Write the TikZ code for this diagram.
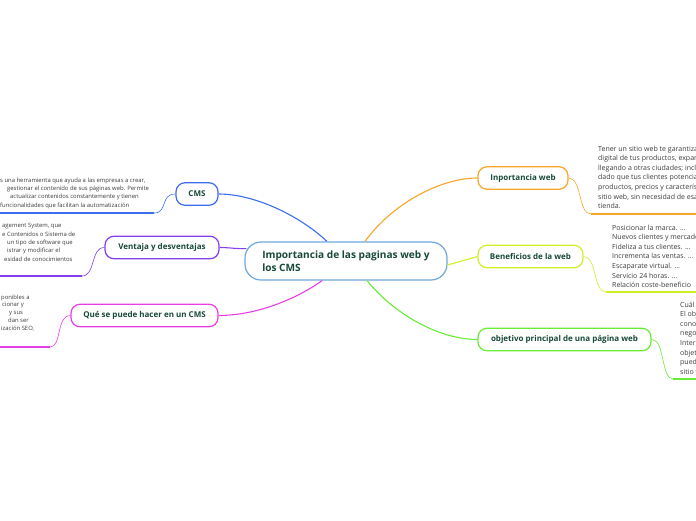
\documentclass[tikz,border=0pt]{standalone}
\usepackage{fontspec}
\setmainfont{Open Sans}
\usetikzlibrary{positioning}
\definecolor{ink}{RGB}{24,72,56}
\definecolor{note}{RGB}{60,60,60}
\definecolor{croot}{RGB}{110,168,220}
\definecolor{ccms}{RGB}{60,108,240}
\definecolor{cven}{RGB}{132,62,236}
\definecolor{cque}{RGB}{232,62,232}
\definecolor{cimp}{RGB}{247,166,40}
\definecolor{cben}{RGB}{206,240,40}
\definecolor{cobj}{RGB}{104,236,52}

\begin{document}
\begin{tikzpicture}[x=1pt,y=-1pt,
    root/.style={draw=croot,line width=1.2pt,rounded corners=16pt,fill=white,
                 minimum width=202pt,minimum height=38pt,inner sep=0pt,
                 font=\fontsize{10.1}{13}\selectfont\bfseries,text=ink,align=left},
    topic/.style={draw=#1,line width=1.2pt,rounded corners=9pt,fill=white,
                  minimum height=22.5pt,inner sep=0pt,
                  font=\fontsize{8}{9}\selectfont\bfseries,text=ink},
    lnote/.style={font=\fontsize{5.9}{8.3}\selectfont,align=left,
                  inner sep=0pt,anchor=north west,text=note},
    rnote/.style={font=\fontsize{7}{9.6}\selectfont,align=left,
                  inner sep=0pt,anchor=north west,text=note},
    branch/.style={draw=#1,line width=1.1pt},
    twig/.style={draw=#1,line width=0.6pt},
    bar/.style={draw=#1,line width=1.8pt}]
    \useasboundingbox (0,0) rectangle (696,520);
    \clip (0,0) rectangle (696,520);
    % central topic
    \node[root] (root) at (346,261) {Importancia de las paginas web y\\los CMS};
    % left topics
    \node[topic=ccms,minimum width=42pt]  (cms) at (197,194)   {CMS};
    \node[topic=cven,minimum width=114pt] (ven) at (162,247.5) {Ventaja y desventajas};
    \node[topic=cque,minimum width=147pt] (que) at (144.5,315.5) {Qué se puede hacer en un CMS};
    % right topics
    \node[topic=cimp,minimum width=90pt]  (imp) at (523,178)   {Inportancia web};
    \node[topic=cben,minimum width=105pt] (ben) at (530.5,256.5) {Beneficios de la web};
    \node[topic=cobj,minimum width=173pt] (obj) at (564.5,339.5) {objetivo principal de una página web};
    % main branches
    \draw[branch=ccms] ([xshift=-19pt]root.north) .. controls (300,216) and (255,194) .. (cms.east);
    \draw[branch=cven] ([xshift=2pt]root.173) .. controls (236,249) and (230,247.5) .. (ven.east);
    \draw[branch=cque] ([xshift=-24pt]root.south) .. controls (295,300) and (255,315.5) .. (que.east);
    \draw[branch=cimp] ([xshift=19pt]root.north) .. controls (392,204) and (440,178) .. (imp.west);
    \draw[branch=cben] ([yshift=-4pt]root.east) -- (ben.west);
    \draw[branch=cobj] ([xshift=21pt]root.south) .. controls (395,315) and (440,339.5) .. (obj.west);
    % notes on the left
    \coordinate (cmsbar) at (154,213);  \coordinate (cmsend) at (0,213);
    \coordinate (venbar) at (82,276);   \coordinate (venend) at (0,276);
    \coordinate (quebar) at (50,347);   \coordinate (queend) at (0,347);
    \draw[twig=ccms] (cms.west) .. controls (160,194) and (168,213) .. (cmsbar);
    \draw[bar=ccms] (cmsbar) -- (cmsend);
    \draw[twig=cven] (ven.west) .. controls (90,247.5) and (96,276) .. (venbar);
    \draw[bar=cven] (venbar) -- (venend);
    \draw[twig=cque] (que.west) .. controls (56,315.5) and (62,347) .. (quebar);
    \draw[bar=cque] (quebar) -- (queend);
    \node[lnote] (cmstxt) at (0,177.5) {s una herramienta que ayuda a las empresas a crear,\\
      \hspace*{7pt}gestionar el contenido de sus páginas web. Permite\\
      \hspace*{10pt}actualizar contenidos constantemente y tienen\\
      funcionalidades que facilitan la automatización};
    \node[lnote] (ventxt) at (2,223.5) {agement System, que\\
      e Contenidos o Sistema de\\
      \hspace*{5pt}un tipo de software que\\
      \hspace*{5pt}istrar y modificar el\\
      \hspace*{2pt}esidad de conocimientos};
    \node[lnote,font=\fontsize{5.9}{7.8}\selectfont] (quetxt) at (1,294.5) {ponibles a\\
      \hspace*{1pt}cionar y\\
      \hspace*{8pt}y sus\\
      \hspace*{7pt}dan ser\\
      ización SEO,};
    % notes on the right
    \coordinate (impbar) at (591,214);  \coordinate (impend) at (696,214);
    \coordinate (benbar) at (606,292);  \coordinate (benend) at (696,292);
    \coordinate (objbar) at (673,379);  \coordinate (objend) at (696,379);
    \draw[twig=cimp] (imp.east) .. controls (582,178) and (578,214) .. (impbar);
    \draw[bar=cimp] (impbar) -- (impend);
    \draw[twig=cben] (ben.east) .. controls (597,256.5) and (593,292) .. (benbar);
    \draw[bar=cben] (benbar) -- (benend);
    \draw[twig=cobj] (obj.east) .. controls (665,339.5) and (661,379) .. (objbar);
    \draw[bar=cobj] (objbar) -- (objend);
    \node[rnote] (imptxt) at (598,145.5) {Tener un sitio web te garantiza\\
      digital de tus productos, expandiendo\\
      llegando a otras ciudades; incluso\\
      dado que tus clientes potenciales\\
      productos, precios y características\\
      sitio web, sin necesidad de esa\\
      tienda.};
    \node[rnote] (bentxt) at (612,224.5) {Posicionar la marca. ...\\
      Nuevos clientes y mercados. ...\\
      Fideliza a tus clientes. ...\\
      Incrementa las ventas. ...\\
      Escaparate virtual. ...\\
      Servicio 24 horas. ...\\
      Relación coste-beneficio};
    \node[rnote] (objtxt) at (680,301.5) {Cuál es\\
      El objetivo\\
      conocer\\
      negocio\\
      Internet\\
      objetivos\\
      pueden\\
      sitio web};
\end{tikzpicture}
\end{document}
